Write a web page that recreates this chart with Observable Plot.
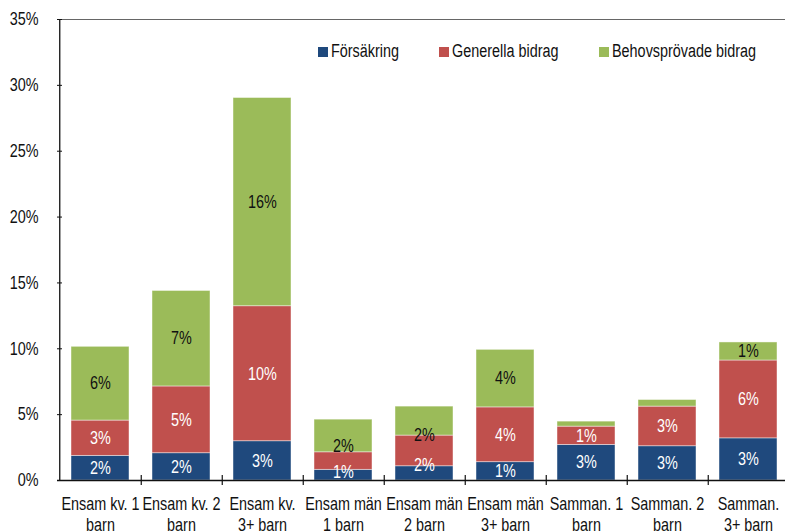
<!DOCTYPE html>
<html>
<head>
<meta charset="utf-8">
<script src="https://cdn.jsdelivr.net/npm/d3@7"></script>
<script src="https://cdn.jsdelivr.net/npm/@observablehq/plot@0.6"></script>
<style>
  html, body { margin: 0; padding: 0; background: #fff; }
  #chart { position: relative; width: 785px; height: 531px; }
  #chart svg { font-family: "Liberation Sans", Arial, sans-serif; }
  #legend { position: absolute; left: 318px; top: 41px; display: flex; gap: 40px;
    font-family: "Liberation Sans", Arial, sans-serif; font-size: 18px; color: #111; white-space: nowrap; }
  #legend .item { display: flex; align-items: center; }
  #legend .sw { width: 10px; height: 10px; display: inline-block; margin-right: 3px; }
  #legend .lab { display: inline-block; transform: scaleX(0.8); transform-origin: 0 50%; }
</style>
</head>
<body>
<div id="chart"><div id="legend"></div></div>
<script>
const categories = [
  "Ensam kv. 1\nbarn", "Ensam kv. 2\nbarn", "Ensam kv.\n3+ barn",
  "Ensam män\n1 barn", "Ensam män\n2 barn", "Ensam män\n3+ barn",
  "Samman. 1\nbarn", "Samman. 2\nbarn", "Samman.\n3+ barn"
];
const seriesNames = ["Försäkring", "Generella bidrag", "Behovsprövade bidrag"];
const seriesColors = ["#1F497D", "#C0504D", "#9BBB59"];
const labelColors = ["white", "white", "#111"];
const forsakring = [1.87, 2.07, 2.98, 0.81, 1.08, 1.39, 2.70, 2.60, 3.20];
const generella  = [2.68, 5.07, 10.25, 1.33, 2.33, 4.16, 1.39, 3.01, 5.91];
const behov      = [5.60, 7.25, 15.81, 2.48, 2.20, 4.37, 0.38, 0.50, 1.37];
const yTicks = [0, 5, 10, 15, 20, 25, 30, 35];
const labelMin = 1.2;
const narrow = 0.8;

const seriesValues = [forsakring, generella, behov];
const data = [];
seriesNames.forEach((s, si) => {
  categories.forEach((c, ci) => {
    data.push({category: c, series: s, value: seriesValues[si][ci], si});
  });
});

const W = 785, H = 531;
const xRange = [57, 790.5];
const step = (xRange[1] - xRange[0]) / categories.length;

const stackOpts = {x: "category", y: "value", order: seriesNames};

const chart = Plot.plot({
  width: W,
  height: H,
  marginTop: 19,
  marginBottom: 51,
  marginLeft: 57,
  marginRight: 0,
  style: {fontSize: "18px", color: "#111", background: "white"},
  x: {domain: categories, range: xRange, paddingInner: 0.288, paddingOuter: 0.144, label: null},
  y: {domain: [0, 35], label: null},
  color: {domain: seriesNames, range: seriesColors},
  marks: [
    Plot.barY(data, Plot.stackY({...stackOpts, fill: "series", stroke: "white", strokeOpacity: 0.55, strokeWidth: 0.8})),
    Plot.text(data.filter(d => d.value >= labelMin), Plot.stackY({
      ...stackOpts,
      text: d => Math.round(d.value) + "%",
      fill: d => labelColors[d.si],
      fontSize: 18
    })),
    Plot.ruleY([35], {stroke: "#666", strokeWidth: 1.2}),
    Plot.ruleY([0], {stroke: "#111", strokeWidth: 1.3}),
    Plot.ruleX([categories[0]], {dx: -step / 2, stroke: "#111", strokeWidth: 1.3}),
    Plot.ruleX(categories, {x: d => d, y1: 0, y2: 0, dx: step / 2, insetTop: -5, insetBottom: -5, stroke: "#111", strokeWidth: 1.2}),
    Plot.axisY({ticks: yTicks, tickSize: -5, tickPadding: 24, tickFormat: d => d + "%", fontSize: 18, stroke: "#111"}),
    Plot.axisX({tickSize: 0, tickPadding: 14, lineHeight: 1.2, fontSize: 18})
  ]
});
// condensed look: narrow every text around its own anchor
chart.querySelectorAll("text").forEach(t => {
  const tr = t.getAttribute("transform");
  if (tr) t.setAttribute("transform", tr + ` scale(${narrow},1)`);
});
document.getElementById("chart").prepend(chart);

const legend = document.getElementById("legend");
seriesNames.forEach((s, i) => {
  const item = document.createElement("div");
  item.className = "item";
  const sw = document.createElement("span");
  sw.className = "sw";
  sw.style.background = seriesColors[i];
  const t = document.createElement("span");
  t.className = "lab";
  t.textContent = s;
  item.appendChild(sw);
  item.appendChild(t);
  legend.appendChild(item);
  const full = t.offsetWidth;
  t.style.marginRight = (-(full * (1 - narrow))) + "px";
});
</script>
</body>
</html>
